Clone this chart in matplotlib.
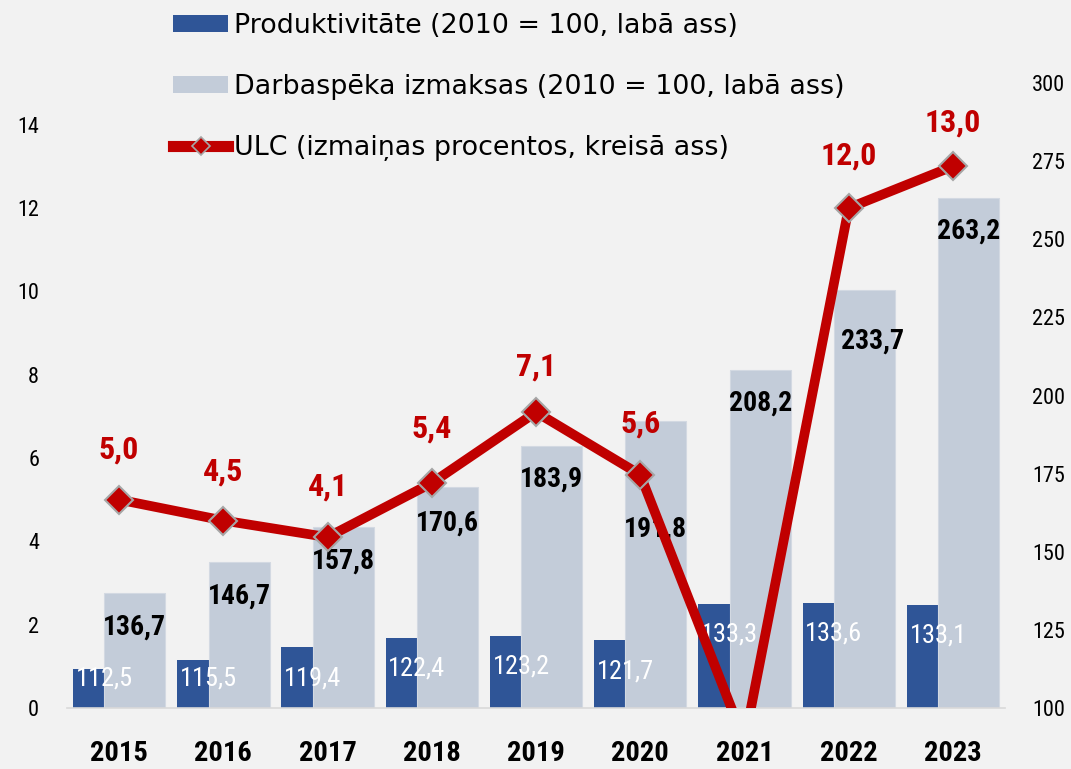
import matplotlib
matplotlib.use("Agg")
import matplotlib.pyplot as plt
from matplotlib.patches import Patch
from matplotlib.lines import Line2D
import numpy as np

# ---------------- data ----------------
years = ["2015", "2016", "2017", "2018", "2019", "2020", "2021", "2022", "2023"]
productivity = [112.5, 115.5, 119.4, 122.4, 123.2, 121.7, 133.3, 133.6, 133.1]
labour_cost = [136.7, 146.7, 157.8, 170.6, 183.9, 191.8, 208.2, 233.7, 263.2]
ulc = [5.0, 4.5, 4.1, 5.4, 7.1, 5.6, -0.8, 12.0, 13.0]
ulc_show_label = [True, True, True, True, True, True, False, True, True]

legend_labels = [
    "Produktivitāte (2010 = 100, labā ass)",
    "Darbaspēka izmaksas (2010 = 100, labā ass)",
    "ULC (izmaiņas procentos, kreisā ass)",
]
left_ticks = [0, 2, 4, 6, 8, 10, 12, 14]
right_ticks = [100, 125, 150, 175, 200, 225, 250, 275, 300]

# label nudges (pixels)
black_dx_px = [0, 0, 0, 0, 0, 0, 0, 8, 0]
black_dy_px = [-34, -34, -34, -36, -33, -108, -33, -51, -33]
red_dy_px = [50, 49, 51, 54, 46, 51, 0, 52, 44]

# ---------------- style ----------------
BG = "#F2F2F2"
DARK = "#2F5597"
LIGHT = "#C3CCD9"
RED = "#C00000"
NARROW = ["Liberation Sans Narrow", "Roboto Condensed", "Noto Sans Condensed",
          "Open Sans Condensed", "DejaVu Sans Condensed", "DejaVu Sans"]
STRETCH = "condensed"

W, H = 1071, 769
fig = plt.figure(figsize=(W / 100, H / 100), dpi=100, facecolor=BG)
ax = fig.add_axes([67 / W, (H - 708) / H, (1005 - 67) / W, (708 - 83) / H])
ax.set_facecolor("none")
axl = ax.twinx()
axl.set_facecolor("none")

x = np.arange(len(years))
dark_w, light_w = 0.30, 0.585
split = -0.142

ax.bar(x + split - dark_w, np.array(productivity) - 100, bottom=100,
       width=dark_w, align="edge", color=DARK, edgecolor="none", zorder=2)
ax.bar(x + split, np.array(labour_cost) - 100, bottom=100, width=light_w,
       align="edge", color=LIGHT, edgecolor="#D3D9E2", linewidth=0.8,
       zorder=2)

ax.set_xlim(-0.5, len(x) - 0.5)
ax.set_ylim(100, 300)
ax.set_yticks(right_ticks)
ax.set_yticklabels([str(t) for t in right_ticks])
ax.yaxis.set_ticks_position("right")
ax.set_xticks(x)
ax.set_xticklabels(years)

for s in ["top", "left", "right"]:
    ax.spines[s].set_visible(False)
ax.spines["bottom"].set_color("#D9D9D9")
ax.spines["bottom"].set_linewidth(1.2)
for s in axl.spines.values():
    s.set_visible(False)

ax.tick_params(axis="x", length=0, pad=23)
ax.tick_params(axis="y", length=0, pad=19.5)
for lab in ax.get_xticklabels():
    lab.set_fontfamily(NARROW)
    lab.set_fontstretch(STRETCH)
    lab.set_fontsize(20.5)
    lab.set_fontweight("bold")
for lab in ax.get_yticklabels():
    lab.set_fontfamily(NARROW)
    lab.set_fontstretch(STRETCH)
    lab.set_fontsize(16)

# line on left axis
axl.plot(x, ulc, color=RED, lw=7, marker="D", ms=14, mfc=RED,
         mec="#A6A6A6", mew=1.5, solid_joinstyle="miter", zorder=3)
axl.set_ylim(0, 15)
axl.set_yticks(left_ticks)
axl.set_yticklabels([str(t) for t in left_ticks])
axl.yaxis.set_ticks_position("left")
axl.tick_params(axis="y", length=0, pad=20)
for lab in axl.get_yticklabels():
    lab.set_fontfamily(NARROW)
    lab.set_fontstretch(STRETCH)
    lab.set_fontsize(16)

# data labels - productivity (white)
for i, v in enumerate(productivity):
    yv = max(v - 9.9, 109.5)
    ax.text(x[i] + split, yv, f"{v:.1f}".replace(".", ","), ha="center",
            va="center", color="white", fontsize=19, family=NARROW,
            fontstretch=STRETCH, zorder=4)

# data labels - labour cost (black)
for i, v in enumerate(labour_cost):
    ax.annotate(f"{v:.1f}".replace(".", ","),
                xy=(x[i] + split + light_w / 2, v),
                xytext=(black_dx_px[i], black_dy_px[i]),
                textcoords="offset pixels", ha="center", va="center",
                color="black", fontsize=20, fontweight="bold", family=NARROW,
                fontstretch=STRETCH, zorder=4)

# data labels - ULC (red)
for i, v in enumerate(ulc):
    if not ulc_show_label[i]:
        continue
    axl.annotate(f"{v:.1f}".replace(".", ","), xy=(x[i], v),
                 xytext=(0, red_dy_px[i]), textcoords="offset pixels",
                 ha="center", va="center", color=RED, fontsize=23,
                 fontweight="bold", family=NARROW, fontstretch=STRETCH,
                 zorder=5)

# legend
handles = [
    Patch(facecolor=DARK, edgecolor="none"),
    Patch(facecolor=LIGHT, edgecolor="none"),
    Line2D([], [], color=RED, lw=8, marker="D", ms=9, mfc=RED,
           mec="#A6A6A6", mew=1.2),
]
fig.legend(handles, legend_labels, loc="upper left",
           bbox_to_anchor=(173 / W, 1 - 13 / H), frameon=False, borderpad=0,
           borderaxespad=0, handlelength=2.05, handleheight=0.55,
           handletextpad=0.2, labelspacing=1.3,
           prop={"family": "DejaVu Sans", "size": 19.4})

fig.savefig("out.png", dpi=100, facecolor=BG)
